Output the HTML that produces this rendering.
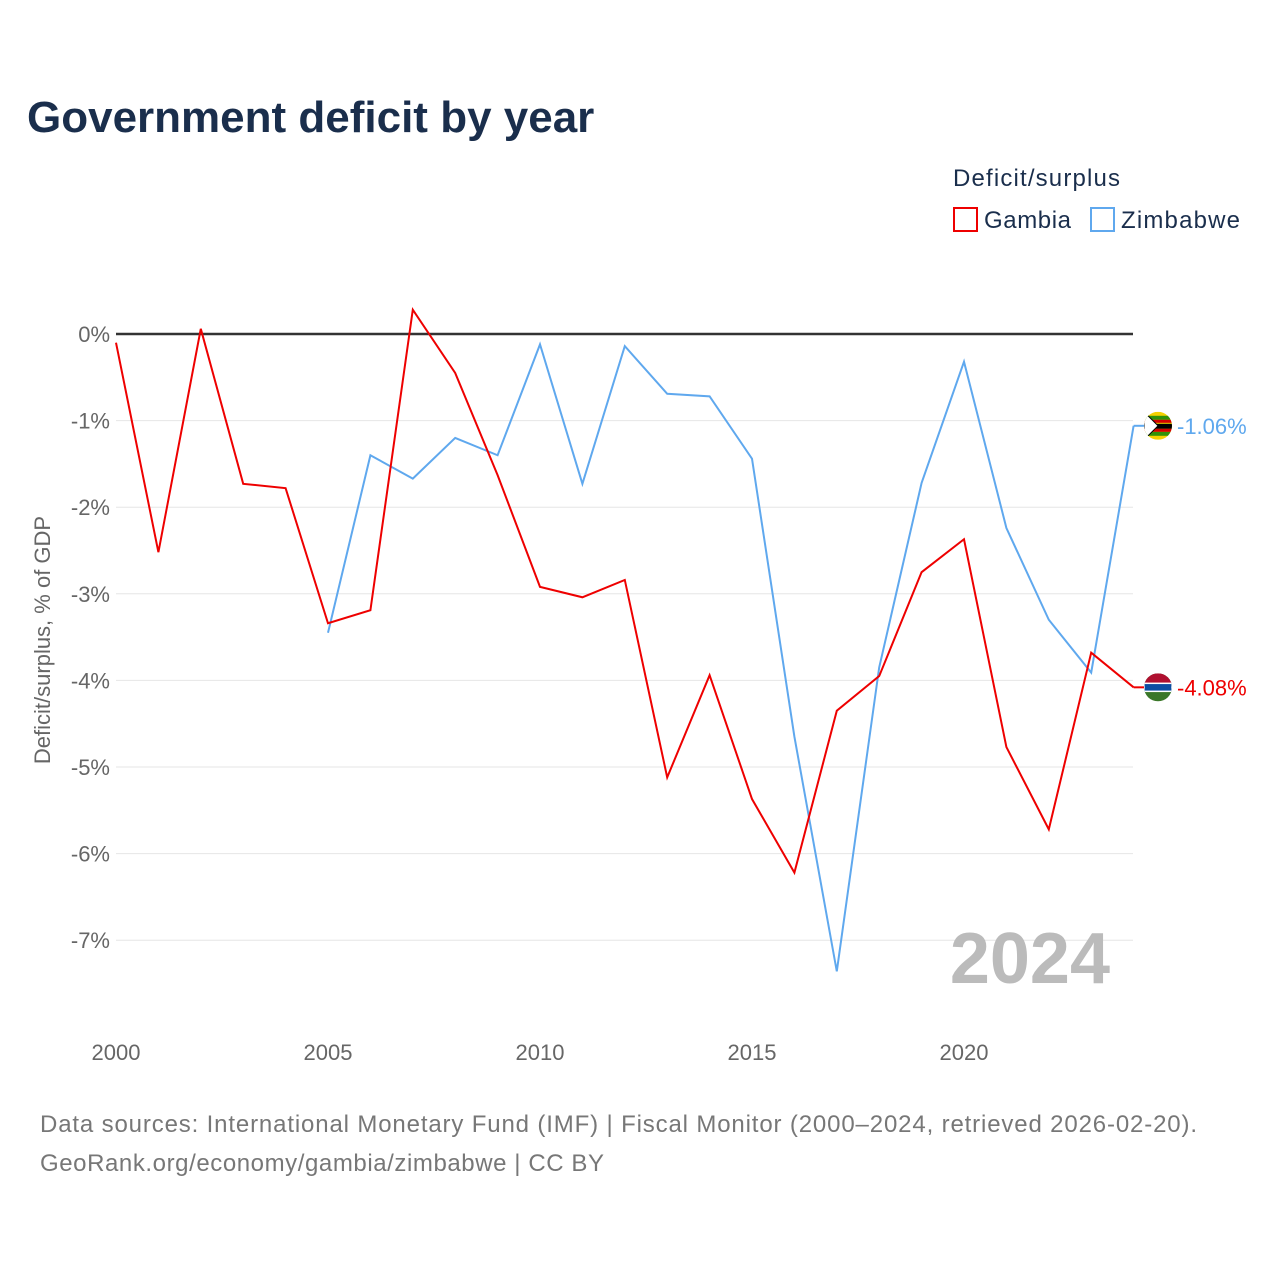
<!DOCTYPE html>
<html><head><meta charset="utf-8"><style>
body{margin:0;background:#fff;width:1280px;height:1280px;overflow:hidden;font-family:"Liberation Sans",sans-serif}
</style></head><body>
<svg width="1280" height="1280" xmlns="http://www.w3.org/2000/svg">
<defs>
<clipPath id="cg"><circle cx="1158" cy="687" r="14"/></clipPath>
<clipPath id="cz"><circle cx="1158" cy="426" r="14"/></clipPath>
</defs>
<text x="27" y="132" font-size="44" font-weight="bold" fill="#1a2e4c">Government deficit by year</text>
<text x="953" y="186" font-size="24" fill="#1a2e4c" textLength="167">Deficit/surplus</text>
<rect x="954" y="208" width="23" height="23" fill="none" stroke="#e00" stroke-width="2"/>
<text x="984" y="228" font-size="24" fill="#1a2e4c" textLength="87">Gambia</text>
<rect x="1091" y="208" width="23" height="23" fill="none" stroke="#5fa8ee" stroke-width="2"/>
<text x="1121" y="228" font-size="24" fill="#1a2e4c" textLength="119">Zimbabwe</text>
<g id="grid"></g>
<text x="50" y="640" font-size="22" fill="#666" text-anchor="middle" transform="rotate(-90 50 640)">Deficit/surplus, % of GDP</text>
<text x="1110" y="983" font-size="72" font-weight="bold" fill="#bbb" text-anchor="end">2024</text>
<g id="series"></g>
<text x="40" y="1132" font-size="24" fill="#777" textLength="1157">Data sources: International Monetary Fund (IMF) | Fiscal Monitor (2000–2024, retrieved 2026-02-20).</text>
<text x="40" y="1171" font-size="24" fill="#777" textLength="564">GeoRank.org/economy/gambia/zimbabwe | CC BY</text>
</svg>
<script>
const years=[2000,2001,2002,2003,2004,2005,2006,2007,2008,2009,2010,2011,2012,2013,2014,2015,2016,2017,2018,2019,2020,2021,2022,2023,2024];
const gambia=[-0.10,-2.52,0.06,-1.73,-1.78,-3.34,-3.19,0.28,-0.45,-1.63,-2.92,-3.04,-2.84,-5.12,-3.94,-5.37,-6.22,-4.35,-3.95,-2.75,-2.37,-4.77,-5.72,-3.68,-4.08];
const zimbabwe=[null,null,null,null,null,-3.45,-1.40,-1.67,-1.20,-1.40,-0.12,-1.73,-0.14,-0.69,-0.72,-1.44,-4.65,-7.36,-3.85,-1.72,-0.32,-2.24,-3.30,-3.91,-1.06];
const yTicks=[0,-1,-2,-3,-4,-5,-6,-7];
const xTicks=[2000,2005,2010,2015,2020];
const NS="http://www.w3.org/2000/svg";
const X=y=>116+(y-2000)*42.4;
const Y=v=>334-v*86.6;
const grid=document.getElementById('grid'),ser=document.getElementById('series');
function mk(tag,at,par){const e=document.createElementNS(NS,tag);for(const k in at)e.setAttribute(k,at[k]);par.appendChild(e);return e;}
yTicks.forEach(t=>{
  const l=mk('line',{x1:116,x2:1133,y1:Y(t),y2:Y(t),stroke:t===0?'#333':'#e6e6e6','stroke-width':t===0?2.5:1},grid);
  
  
  const tx=mk('text',{x:110,y:Y(t)+8,'font-size':22,fill:'#666','text-anchor':'end'},grid);
  tx.textContent=t+'%';
  
  
});
xTicks.forEach(t=>{
  const tx=mk('text',{x:X(t),y:1060,'font-size':22,fill:'#666','text-anchor':'middle'},grid);
  tx.textContent=t;
  
  
});
function line(vals,color,name){
  const pts=[];vals.forEach((v,i)=>{if(v!==null)pts.push(X(years[i])+','+Y(v));});
  const p=mk('polyline',{points:pts.join(' '),fill:'none',stroke:color,'stroke-width':2},ser);
  
  
  const last=vals[vals.length-1];
  const cy=Y(last);
  mk('line',{x1:X(2024),x2:1145,y1:cy,y2:cy,stroke:color,'stroke-width':2},ser);
  const g=mk('g',{'clip-path':name==='gambia'?'url(#cg)':'url(#cz)',transform:`translate(0 ${cy-(name==='gambia'?687:426)})`},ser);
  
  
  const c0=name==='gambia'?687:426;
  if(name==='gambia'){
    mk('rect',{x:1144,y:c0-14,width:28,height:28,fill:'#3a7728'},g);
    mk('rect',{x:1144,y:c0-14,width:28,height:10,fill:'#b01030'},g);
    mk('rect',{x:1144,y:c0-4,width:28,height:8,fill:'#0c4da2',stroke:'#fff','stroke-width':1.5},g);
  } else {
    mk('rect',{x:1144,y:c0-14,width:28,height:28,fill:'#f5d100'},g);
    mk('rect',{x:1144,y:c0-10,width:28,height:4,fill:'#319208'},g);
    mk('rect',{x:1144,y:c0+6,width:28,height:4,fill:'#319208'},g);
    mk('rect',{x:1144,y:c0-2,width:28,height:5,fill:'#000'},g);
    mk('rect',{x:1144,y:c0-6,width:28,height:3,fill:'#d40000'},g);
    mk('rect',{x:1144,y:c0+3,width:28,height:3,fill:'#d40000'},g);
    mk('polygon',{points:`1144,${c0-14} 1158,${c0} 1144,${c0+14}`,fill:'#fff',stroke:'#000','stroke-width':1},g);
  }
  const t=mk('text',{x:1177,y:cy+8,'font-size':22,fill:color},ser);
  t.textContent=last.toFixed(2)+'%';
  
  
}
line(zimbabwe,'#5fa8ee','zimbabwe');
line(gambia,'#ee0000','gambia');
</script>
</body></html>
